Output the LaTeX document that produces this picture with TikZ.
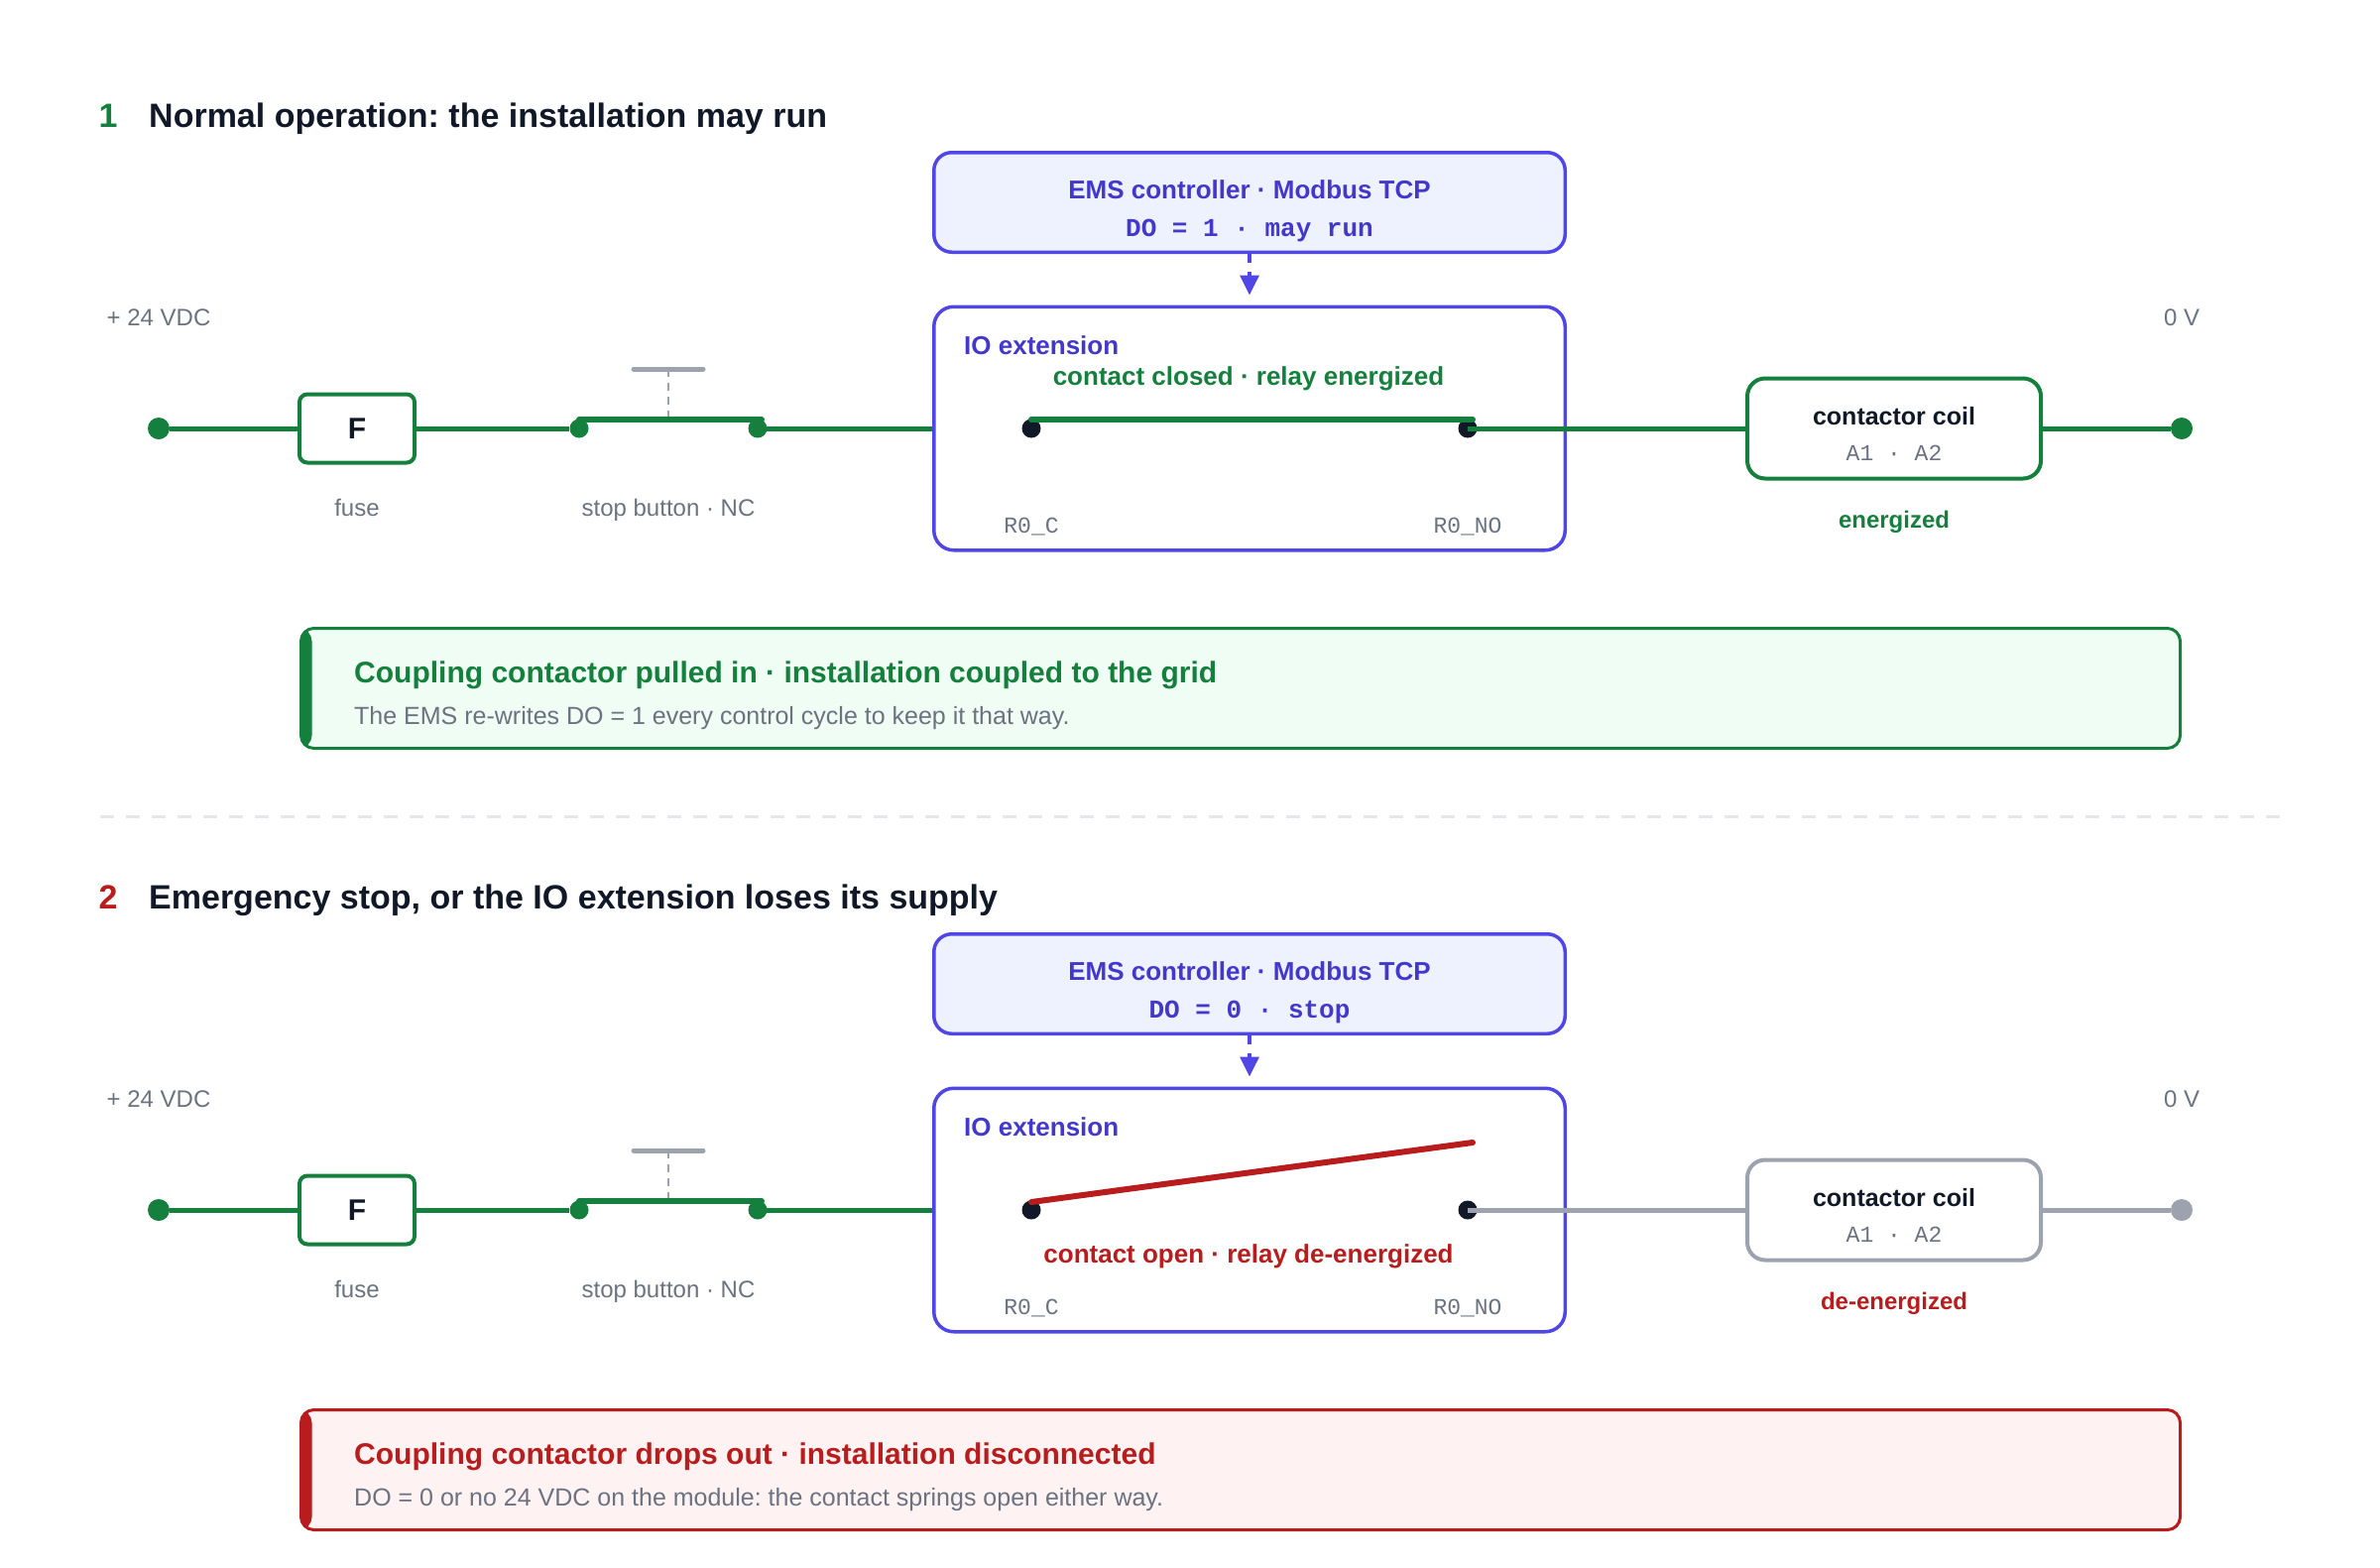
\documentclass[tikz,border=0pt]{standalone}
\usepackage{fontspec}
\setmainfont{Liberation Sans}
\setmonofont{Liberation Mono}
\usetikzlibrary{arrows.meta}
\definecolor{wgreen}{HTML}{15803D}
\definecolor{wred}{HTML}{B91C1C}
\definecolor{indigo}{HTML}{4F46E5}
\definecolor{indtext}{HTML}{4338CA}
\definecolor{ifill}{HTML}{EEF2FF}
\definecolor{gfill}{HTML}{F0FDF4}
\definecolor{rfill}{HTML}{FEF2F2}
\definecolor{muted}{HTML}{6B7280}
\definecolor{wgray}{HTML}{9CA3AF}
\definecolor{ink}{HTML}{111827}
\definecolor{sepgray}{HTML}{E5E7EB}
\newcommand{\fsz}[1]{\fontsize{#1}{#1}\selectfont}
\frenchspacing
\tikzset{
  wire/.style={line width=5pt, #1},
  wire/.default=wgreen,
  dot/.style={circle, fill=#1, inner sep=0pt, minimum size=22pt},
  pin/.style={circle, fill=ink, inner sep=0pt, minimum size=19pt},
  fusebox/.style={draw=wgreen, line width=4pt, fill=white, rounded corners=8pt, minimum width=116pt, minimum height=69pt, inner sep=0pt, font=\bfseries\fsz{30}, text=ink},
  coilbox/.style={draw=#1, line width=4pt, fill=white, rounded corners=18pt, minimum width=296pt, minimum height=101pt},
  emsbox/.style={draw=indigo, line width=3.5pt, fill=ifill, rounded corners=18pt, minimum width=636.5pt, minimum height=100.5pt},
  iobox/.style={draw=indigo, line width=3.5pt, fill=white, rounded corners=20pt, minimum width=636.5pt, minimum height=245.5pt},
  notebox/.style={draw=#1, line width=3pt, rounded corners=13pt, minimum width=1895pt, minimum height=121pt,
    path picture={\fill[#1] (path picture bounding box.south west) rectangle ([xshift=11pt]path picture bounding box.north west);}},
  num/.style={font=\bfseries\fsz{34}, inner sep=0pt, anchor=base},
  head/.style={font=\bfseries\fsz{34}, text=ink, inner sep=0pt, anchor=base west},
  lbl/.style={font=\fsz{24}, text=muted, inner sep=0pt, anchor=base},
  mono/.style={font=\ttfamily\fsz{23}, text=muted, inner sep=0pt, anchor=base},
  emst/.style={font=\bfseries\fsz{26}, text=indtext, inner sep=0pt, anchor=base},
  emsv/.style={font=\ttfamily\bfseries\fsz{26}, text=indtext, inner sep=0pt, anchor=base},
  iot/.style={font=\bfseries\fsz{26}, text=indtext, inner sep=0pt, anchor=base west},
  state/.style={font=\bfseries\fsz{26}, inner sep=0pt, anchor=base},
  coilt/.style={font=\bfseries\fsz{25}, text=ink, inner sep=0pt, anchor=base},
  notet/.style={font=\bfseries\fsz{30}, inner sep=0pt, anchor=base west},
  noted/.style={font=\fsz{25}, text=muted, inner sep=0pt, anchor=base west},
  ctrl/.style={line width=3.5pt, indigo, dash pattern=on 9pt off 9pt, -{Triangle[length=20pt,width=19pt]}, shorten >=10pt},
  bar/.style={line width=6pt, line cap=round},
  btncap/.style={line width=5pt, wgray, line cap=round},
  stem/.style={line width=2.5pt, wgray, dash pattern=on 8pt off 6pt},
  sepline/.style={line width=3pt, sepgray, dash pattern=on 14pt off 12pt}
}
\begin{document}
\begin{tikzpicture}[x=1pt,y=-1pt]
\useasboundingbox (0,0) rectangle (2400,1580);

\node[num, text=wgreen] (num1) at (109,128) {1};
\node[head] (head1) at (150,128) {Normal operation: the installation may run};
\node[emsbox] (ems1) at (1260,204) {};
\node[emst] (emst1) at (1260,200) {EMS controller · Modbus TCP};
\node[emsv] (emsv1) at (1260,238) {DO = 1 · may run};
\node[iobox] (io1) at (1260,432) {};
\draw[ctrl] (ems1) -- (io1);
\node[iot] (iot1) at (972,357) {IO extension};
\node[state, text=wgreen] (state1) at (1259,388) {contact closed · relay energized};
\node[pin] (rc1) at (1040,432) {};
\node[pin] (rno1) at (1480,432) {};
\node[mono] (rcl1) at (1040,537) {R0\_C};
\node[mono] (rnol1) at (1480,537) {R0\_NO};
\draw[bar, wgreen] ([yshift=9pt]rc1.center) -- ([yshift=9pt,xshift=5pt]rno1.center);
\node[dot=wgreen] (vin1) at (160,432) {};
\node[lbl] (vinl1) at (160,328) {+ 24 VDC};
\node[fusebox] (fuse1) at (360,432) {F};
\node[lbl] (fusel1) at (360,520) {fuse};
\node[dot=wgreen, minimum size=19pt] (sbl1) at (584,432) {};
\node[dot=wgreen, minimum size=19pt] (sbr1) at (764,432) {};
\coordinate (sbt1) at (674,372);
\coordinate (sbm1) at (674,423);
\draw[stem] (sbt1) -- (sbm1);
\draw[btncap] ([xshift=-35pt]sbt1) -- ([xshift=35pt]sbt1);
\draw[bar, wgreen] ([yshift=9pt]sbl1.center) -- ([yshift=9pt,xshift=4pt]sbr1.center);
\node[lbl] (sbl1l) at (674,520) {stop button · NC};
\node[coilbox=wgreen] (coil1) at (1910,432) {};
\node[coilt] (coilt1) at (1910,428) {contactor coil};
\node[mono] (coila1) at (1910,464) {A1 · A2};
\node[state, font=\bfseries\fsz{24}, text=wgreen] (coils1) at (1910,532) {energized};
\node[dot=wgreen] (vout1) at (2200,432) {};
\node[lbl] (voutl1) at (2200,328) {0 V};
\draw[wire] (vin1) -- (fuse1) (fuse1) -- (sbl1) (sbr1.center) -- (sbr1 -| io1.west);
\draw[wire] (rno1.center) -- (coil1) (coil1) -- (vout1);
\node[notebox=wgreen, fill=gfill] (note1) at (1251,694) {};
\node[notet, text=wgreen] (notet1) at (357,688) {Coupling contactor pulled in · installation coupled to the grid};
\node[noted] (noted1) at (357,730) {The EMS re-writes DO = 1 every control cycle to keep it that way.};

\coordinate (sepl) at (101,823);
\coordinate (sepr) at (2300,823);
\draw[sepline] (sepl) -- (sepr);

\begin{scope}[yshift=-788pt]
\node[num, text=wred] (num2) at (109,128) {2};
\node[head] (head2) at (150,128) {Emergency stop, or the IO extension loses its supply};
\node[emsbox] (ems2) at (1260,204) {};
\node[emst] (emst2) at (1260,200) {EMS controller · Modbus TCP};
\node[emsv] (emsv2) at (1260,238) {DO = 0 · stop};
\node[iobox] (io2) at (1260,432) {};
\draw[ctrl] (ems2) -- (io2);
\node[iot] (iot2) at (972,357) {IO extension};
\node[state, text=wred] (state2) at (1259,485) {contact open · relay de-energized};
\node[pin] (rc2) at (1040,432) {};
\node[pin] (rno2) at (1480,432) {};
\node[mono] (rcl2) at (1040,537) {R0\_C};
\node[mono] (rnol2) at (1480,537) {R0\_NO};
\draw[bar, wred] ([yshift=8pt]rc2.center) -- ([yshift=68pt,xshift=5pt]rno2.center);
\node[dot=wgreen] (vin2) at (160,432) {};
\node[lbl] (vinl2) at (160,328) {+ 24 VDC};
\node[fusebox] (fuse2) at (360,432) {F};
\node[lbl] (fusel2) at (360,520) {fuse};
\node[dot=wgreen, minimum size=19pt] (sbl2) at (584,432) {};
\node[dot=wgreen, minimum size=19pt] (sbr2) at (764,432) {};
\coordinate (sbt2) at (674,372);
\coordinate (sbm2) at (674,423);
\draw[stem] (sbt2) -- (sbm2);
\draw[btncap] ([xshift=-35pt]sbt2) -- ([xshift=35pt]sbt2);
\draw[bar, wgreen] ([yshift=9pt]sbl2.center) -- ([yshift=9pt,xshift=4pt]sbr2.center);
\node[lbl] (sbl2l) at (674,520) {stop button · NC};
\node[coilbox=wgray] (coil2) at (1910,432) {};
\node[coilt] (coilt2) at (1910,428) {contactor coil};
\node[mono] (coila2) at (1910,464) {A1 · A2};
\node[state, font=\bfseries\fsz{24}, text=wred] (coils2) at (1910,532) {de-energized};
\node[dot=wgray] (vout2) at (2200,432) {};
\node[lbl] (voutl2) at (2200,328) {0 V};
\draw[wire] (vin2) -- (fuse2) (fuse2) -- (sbl2) (sbr2.center) -- (sbr2 -| io2.west);
\draw[wire=wgray] (rno2.center) -- (coil2) (coil2) -- (vout2);
\node[notebox=wred, fill=rfill] (note2) at (1251,694) {};
\node[notet, text=wred] (notet2) at (357,688) {Coupling contactor drops out · installation disconnected};
\node[noted] (noted2) at (357,730) {DO = 0 or no 24 VDC on the module: the contact springs open either way.};
\end{scope}
\end{tikzpicture}
\end{document}
